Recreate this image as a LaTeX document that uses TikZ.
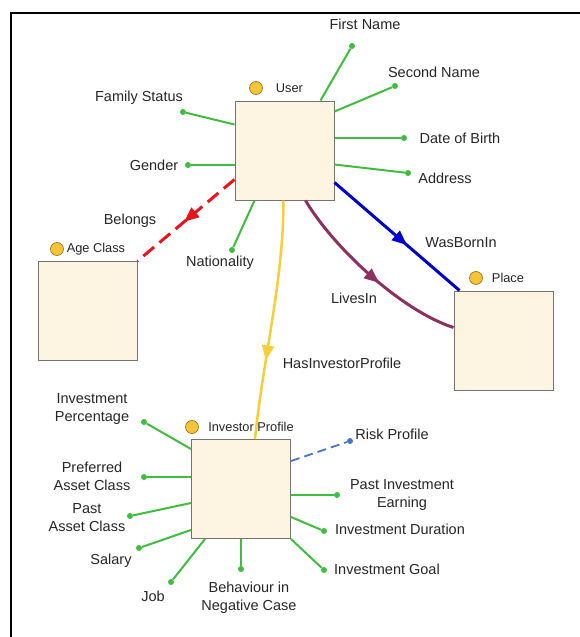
\documentclass[tikz,border=0pt]{standalone}
\usepackage{fontspec}
\setmainfont{Liberation Sans}
\usetikzlibrary{arrows.meta,calc,decorations.markings}
\definecolor{attr}{RGB}{64,189,64}
\definecolor{boxfill}{RGB}{253,245,225}
\definecolor{boxborder}{RGB}{115,115,115}
\definecolor{tagfill}{RGB}{245,196,55}
\definecolor{tagborder}{RGB}{150,110,20}
\definecolor{txt}{RGB}{38,38,38}
\definecolor{relred}{RGB}{232,20,26}
\definecolor{relblue}{RGB}{0,0,204}
\definecolor{relpurple}{RGB}{140,48,100}
\definecolor{relyellow}{RGB}{245,206,60}
\definecolor{riskblue}{RGB}{70,120,200}
\begin{document}
\begin{tikzpicture}[x=1pt,y=-1pt,
  box/.style={draw=boxborder, fill=boxfill, line width=1pt, minimum width=99pt, minimum height=99pt, inner sep=0pt},
  dot/.style={circle, fill=attr, inner sep=0pt, minimum size=6pt},
  tag/.style={circle, draw=tagborder, fill=tagfill, line width=0.6pt, inner sep=0pt, minimum size=13pt},
  lbl/.style={text=txt, font=\fontsize{14.5}{18}\selectfont, align=center, inner sep=0pt},
  small/.style={text=txt, font=\fontsize{12.8}{15}\selectfont, inner sep=0pt},
  attrline/.style={draw=attr, line width=2pt},
  midarrow/.style={postaction={decorate}, decoration={markings, mark=at position #1 with {\arrow{Triangle[length=15pt,width=12pt]}}}}
]
\useasboundingbox (0,0) rectangle (580,637);
\fill[white] (0,0) rectangle (580,637);
\draw[line width=2pt] (11,637) -- (11,13) -- (580,13);

% boxes
\node[box] (user) at (284.5,150.5) {};
\node[box] (age) at (87.5,311) {};
\node[box] (place) at (503.5,340.5) {};
\node[box] (inv) at (241,489) {};

% tags
\node[tag] (usertag) at (256,88) {};
\node[small] (usertxt) at (289.5,88) {User};
\node[tag] (agetag) at (57,249) {};
\node[small] (agetxt) at (96,249) {Age Class};
\node[tag] (placetag) at (476,278) {};
\node[small] (placetxt) at (508,278) {Place};
\node[tag] (invtag) at (192,427) {};
\node[small] (invtxt) at (251,427) {Investor Profile};

% User attributes
\node[dot] (fn) at (352,46) {};
\node[dot] (sn) at (395,86) {};
\node[dot] (dob) at (404,138) {};
\node[dot] (addr) at (408,173) {};
\node[dot] (fs) at (183,112) {};
\node[dot] (gen) at (188,165) {};
\node[dot] (nat) at (232,250) {};

\draw[attrline] ($(user.north west)+(86,0)$) -- (fn);
\draw[attrline] ($(user.north east)+(0,11)$) -- (sn);
\draw[attrline] (user.east |- dob) -- (dob);
\draw[attrline] ($(user.north east)+(0,64)$) -- (addr);
\draw[attrline] ($(user.north west)+(0,24)$) -- (fs);
\draw[attrline] (user.west |- gen) -- (gen);
\draw[attrline] ($(user.south west)+(20,0)$) -- (nat);

\node[lbl] (fnt) at (365,24) {First Name};
\node[lbl] (snt) at (434,72) {Second Name};
\node[lbl] (dobt) at (460,138) {Date of Birth};
\node[lbl] (addrt) at (445,178) {Address};
\node[lbl] (fst) at (139,98) {Family Status};
\node[lbl] (gent) at (154,165) {Gender};
\node[lbl] (natt) at (220,263) {Nationality};

% relations
\draw[draw=relred, line width=3pt, dash pattern=on 14pt off 7pt, midarrow=0.52]
  ($(user.north west)+(0,79)$) -- (age.north east);
\node[lbl] (belt) at (130,221) {Belongs};

\draw[draw=relblue, line width=3pt, midarrow=0.58]
  ($(user.north east)+(0,82)$) -- ($(place.north west)+(6,0)$);
\node[lbl] (wbt) at (461,243) {WasBornIn};

\draw[draw=relpurple, line width=3pt, midarrow=0.56]
  ($(user.south west)+(71,0)$) .. controls +(30,50) and +(-50,-16) .. ($(place.north west)+(0,37)$);
\node[lbl] (lit) at (354,298) {LivesIn};

\draw[draw=relyellow, line width=2.5pt, midarrow=0.67]
  ($(user.south west)+(49,0)$) .. controls +(0,80) and +(8,-80) .. ($(inv.north west)+(64,0)$);
\node[lbl] (hipt) at (342,363) {HasInvestorProfile};

% Investor profile attributes
\node[dot] (ip) at (144,422) {};
\node[dot] (pac) at (144,477) {};
\node[dot] (past) at (130,516) {};
\node[dot] (sal) at (139,548) {};
\node[dot] (job) at (171,582) {};
\node[dot] (beh) at (241,569) {};
\node[dot] (goal) at (324,570) {};
\node[dot] (dur) at (324,531) {};
\node[dot] (pie) at (337,495) {};
\node[dot, fill=riskblue] (risk) at (350,441) {};

\draw[attrline] ($(inv.north west)+(0,10)$) -- (ip);
\draw[attrline] (inv.west |- pac) -- (pac);
\draw[attrline] ($(inv.north west)+(0,64)$) -- (past);
\draw[attrline] ($(inv.north west)+(0,91)$) -- (sal);
\draw[attrline] ($(inv.south west)+(14,0)$) -- (job);
\draw[attrline] (beh |- inv.south) -- (beh);
\draw[attrline] (inv.south east) -- (goal);
\draw[attrline] ($(inv.north east)+(0,78)$) -- (dur);
\draw[attrline] (inv.east |- pie) -- (pie);
\draw[draw=riskblue, line width=1.8pt, dash pattern=on 9pt off 5pt] ($(inv.north east)+(0,22)$) -- (risk);

\node[lbl] (ipt) at (92,409) {Investment\\Percentage};
\node[lbl] (pact) at (92,476) {Preferred\\Asset Class};
\node[lbl] (pastt) at (87,518) {Past\\Asset Class};
\node[lbl] (salt) at (111,561) {Salary};
\node[lbl] (jobt) at (153,596) {Job};
\node[lbl] (beht) at (249,598) {Behaviour in\\Negative Case};
\node[lbl] (goalt) at (387,569) {Investment Goal};
\node[lbl] (durt) at (400,529) {Investment Duration};
\node[lbl] (piet) at (402,495) {Past Investment\\Earning};
\node[lbl] (riskt) at (392,434) {Risk Profile};
\end{tikzpicture}
\end{document}
